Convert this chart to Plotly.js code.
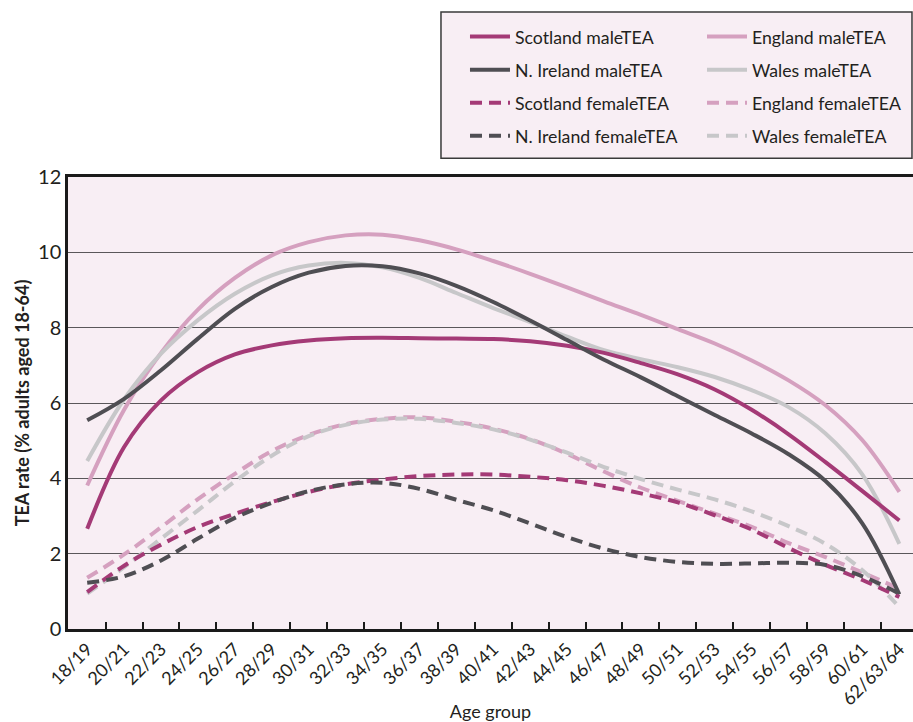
<!DOCTYPE html>
<html><head><meta charset="utf-8">
<script src="https://cdn.plot.ly/plotly-3.0.1.min.js"></script>
<style>html,body{margin:0;padding:0;background:#fff}</style>
</head><body><div id="chart" style="width:913px;height:722px"></div>
<script>
const ageGroups = ['18/19','20/21','22/23','24/25','26/27','28/29','30/31','32/33','34/35','36/37','38/39','40/41','42/43','44/45','46/47','48/49','50/51','52/53','54/55','56/57','58/59','60/61','62/63/64'];
const scotlandMale   = [2.66, 4.83, 6.07, 6.82, 7.29, 7.53, 7.66, 7.72, 7.73, 7.72, 7.71, 7.70, 7.64, 7.52, 7.33, 7.06, 6.76, 6.36, 5.82, 5.17, 4.43, 3.66, 2.88];
const niMale         = [5.54, 6.11, 6.87, 7.71, 8.50, 9.08, 9.46, 9.64, 9.63, 9.44, 9.11, 8.68, 8.19, 7.67, 7.15, 6.68, 6.18, 5.68, 5.19, 4.64, 3.93, 2.80, 0.92];
const scotlandFemale = [0.98, 1.68, 2.24, 2.71, 3.06, 3.37, 3.64, 3.84, 3.97, 4.06, 4.10, 4.10, 4.04, 3.95, 3.80, 3.60, 3.36, 3.02, 2.64, 2.15, 1.70, 1.30, 0.85];
const niFemale       = [1.23, 1.40, 1.82, 2.40, 2.95, 3.35, 3.66, 3.84, 3.88, 3.72, 3.43, 3.15, 2.80, 2.44, 2.13, 1.91, 1.78, 1.73, 1.74, 1.76, 1.70, 1.40, 0.94];
const englandMale    = [3.81, 5.82, 7.33, 8.48, 9.32, 9.92, 10.27, 10.45, 10.47, 10.32, 10.08, 9.77, 9.43, 9.07, 8.70, 8.34, 7.96, 7.58, 7.13, 6.60, 5.94, 5.01, 3.64];
const walesMale      = [4.46, 6.10, 7.31, 8.20, 8.90, 9.39, 9.65, 9.72, 9.60, 9.32, 8.92, 8.52, 8.15, 7.76, 7.40, 7.16, 6.95, 6.69, 6.34, 5.89, 5.19, 4.10, 2.26];
const englandFemale  = [1.36, 1.98, 2.70, 3.45, 4.12, 4.72, 5.15, 5.44, 5.58, 5.62, 5.50, 5.32, 5.04, 4.65, 4.18, 3.75, 3.40, 3.06, 2.71, 2.28, 1.91, 1.50, 1.07];
const walesFemale    = [0.94, 1.64, 2.40, 3.15, 3.92, 4.60, 5.12, 5.42, 5.56, 5.58, 5.47, 5.30, 5.03, 4.68, 4.30, 3.98, 3.70, 3.44, 3.12, 2.73, 2.26, 1.56, 0.58];

const cScot = '#a43a76', cNI = '#4f4e53', cEng = '#d5a0bf', cWal = '#c7c7c9';
const dashPat = '12px,7px';

function tr(name, y, color, dashed, leg, rank){
  return {
    type:'scatter', mode:'lines', name:name, x:ageGroups, y:y,
    line:{color:color, width:4, shape:'spline', smoothing:1, dash: dashed ? dashPat : 'solid'},
    legend: leg, legendgroup: name, legendrank: rank, hoverinfo:'x+y+name'
  };
}

const data = [
  tr('England maleTEA', englandMale, cEng, false, 'legend2', 1),
  tr('Wales maleTEA', walesMale, cWal, false, 'legend2', 2),
  tr('England femaleTEA', englandFemale, cEng, true, 'legend2', 3),
  tr('Wales femaleTEA', walesFemale, cWal, true, 'legend2', 4),
  tr('Scotland maleTEA', scotlandMale, cScot, false, 'legend', 1),
  tr('N. Ireland maleTEA', niMale, cNI, false, 'legend', 2),
  tr('Scotland femaleTEA', scotlandFemale, cScot, true, 'legend', 3),
  tr('N. Ireland femaleTEA', niFemale, cNI, true, 'legend', 4)
];

const legCommon = {xanchor:'left', yanchor:'top', bgcolor:'rgba(0,0,0,0)', borderwidth:0,
  font:{size:17.7, color:'#231f20'}, tracegroupgap:7, traceorder:'grouped', itemwidth:40};

const layout = {
  width:913, height:722,
  margin:{l:68, r:0, t:177, b:93, pad:0},
  paper_bgcolor:'#ffffff', plot_bgcolor:'#f8eef4',
  font:{family:'Lato, sans-serif', color:'#231f20', size:17},
  showlegend:true,
  xaxis:{type:'category', range:[-0.52, 22.37], tickangle:-45, ticks:'inside', tickson:'boundaries',
    ticklen:7, tickwidth:1.5, tickcolor:'#1a1a1a', showline:true, linewidth:2.5, linecolor:'#1a1a1a',
    mirror:true, showgrid:false, zeroline:false, tickfont:{size:18}, automargin:false,
    title:{text:'Age group', font:{size:18}, standoff:6}},
  yaxis:{range:[0,12], dtick:2, tick0:0, showgrid:true, gridcolor:'#5a575a', gridwidth:1.3,
    showline:true, linewidth:2.5, linecolor:'#1a1a1a', zeroline:false, ticks:'', automargin:false,
    tickfont:{size:20}, title:{text:'TEA rate (% adults aged 18-64)', font:{size:18, weight:'bold'}, standoff:4}},
  shapes:[{type:'rect', xref:'paper', yref:'paper', x0:0.4414, x1:0.9988, y0:1.0416, y1:1.3648,
    line:{color:'#3a3a3a', width:1.5}, fillcolor:'#f8eef4', layer:'below'}],
  legend:Object.assign({x:0.4698, y:1.3504}, legCommon),
  legend2:Object.assign({x:0.7503, y:1.3504}, legCommon)
};

Plotly.newPlot('chart', data, layout, {displayModeBar:false, responsive:false});
</script>
</body></html>
